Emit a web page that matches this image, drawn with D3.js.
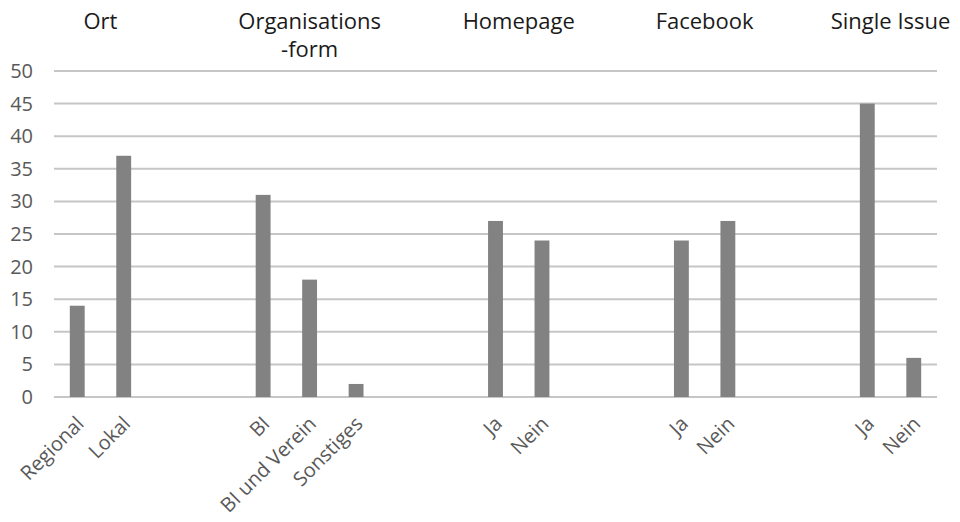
<!DOCTYPE html>
<html>
<head>
<meta charset="utf-8">
<script src="https://cdn.jsdelivr.net/npm/d3@7"></script>
<style>
  body { margin: 0; background: #fff; }
  text { font-family: "Open Sans", "Noto Sans", sans-serif; }
</style>
</head>
<body>
<svg id="chart" width="960" height="522"></svg>
<script>
// slots include empty gaps between groups, as in the original sheet
const slots = ['Regional', 'Lokal', '', '', 'BI', 'BI und Verein', 'Sonstiges', '', '',
    'Ja', 'Nein', '', '', 'Ja', 'Nein', '', '', 'Ja', 'Nein'];
const values = [14, 37, null, null, 31, 18, 2, null, null,
    27, 24, null, null, 24, 27, null, null, 45, 6];
const groupTitles = [['Ort'], ['Organisations', '-form'], ['Homepage'], ['Facebook'], ['Single Issue']];
const groupSlots = [[0, 1], [4, 6], [9, 10], [13, 14], [17, 18]];
const yTicks = [0, 5, 10, 15, 20, 25, 30, 35, 40, 45, 50];

const svg = d3.select('#chart');
const plotLeft = 54, plotRight = 937, plotTop = 71, plotBottom = 397;

const x = d3.scaleBand()
    .domain(d3.range(slots.length))
    .range([plotLeft, plotRight])
    .paddingInner(0.68)
    .paddingOuter(0.34);

const y = d3.scaleLinear().domain([0, 50]).range([plotBottom, plotTop]);

// gridlines
svg.append('g')
    .selectAll('line')
    .data(yTicks)
    .join('line')
    .attr('x1', plotLeft)
    .attr('x2', plotRight)
    .attr('y1', d => y(d))
    .attr('y2', d => y(d))
    .attr('stroke', '#c6c6c6')
    .attr('stroke-width', 2);

// y labels
svg.append('g')
    .selectAll('text')
    .data(yTicks)
    .join('text')
    .attr('x', 33)
    .attr('y', d => y(d))
    .attr('dy', '0.35em')
    .attr('text-anchor', 'end')
    .attr('font-size', 20)
    .attr('fill', '#595959')
    .text(d => d);

// bars
svg.append('g')
    .selectAll('rect')
    .data(values.map((v, i) => ({ v, i })).filter(d => d.v !== null))
    .join('rect')
    .attr('x', d => x(d.i))
    .attr('y', d => y(d.v))
    .attr('width', x.bandwidth())
    .attr('height', d => y(0) - y(d.v))
    .attr('fill', '#828282');

// x labels, rotated
svg.append('g')
    .selectAll('text')
    .data(slots.map((s, i) => ({ s, i })).filter(d => d.s !== ''))
    .join('text')
    .attr('transform', d => `translate(${x(d.i) + x.bandwidth() / 2 + 3},${plotBottom + 23}) rotate(-45)`)
    .attr('text-anchor', 'end')
    .attr('dy', '0.35em')
    .attr('font-size', 20)
    .attr('fill', '#595959')
    .text(d => d.s);

// group titles
const titles = svg.append('g')
    .selectAll('text')
    .data(groupTitles)
    .join('text')
    .attr('x', (d, i) => {
        const [a, b] = groupSlots[i];
        return (x(a) + x(b) + x.bandwidth()) / 2;
    })
    .attr('y', 29)
    .attr('text-anchor', 'middle')
    .attr('font-size', 22)
    .attr('fill', '#1a1a1a');

titles.selectAll('tspan')
    .data(d => d)
    .join('tspan')
    .attr('x', function () { return d3.select(this.parentNode).attr('x'); })
    .attr('dy', (d, i) => i === 0 ? 0 : 28)
    .text(d => d);
</script>
</body>
</html>
